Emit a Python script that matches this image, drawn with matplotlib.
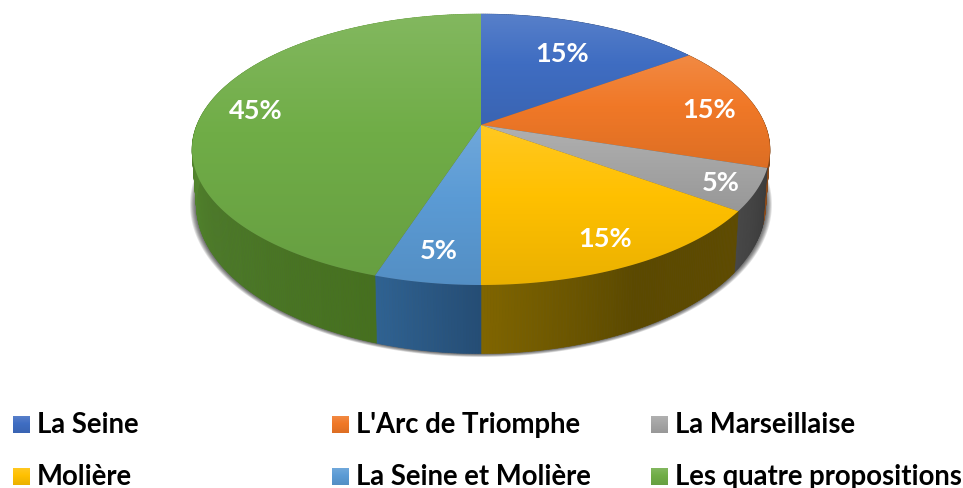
import numpy as np
import matplotlib
matplotlib.use('Agg')
import matplotlib.pyplot as plt
from matplotlib.colors import LinearSegmentedColormap, to_rgb
from matplotlib.patches import Polygon

names = ['La Seine', "L'Arc de Triomphe", 'La Marseillaise', 'Molière', 'La Seine et Molière', 'Les quatre propositions']
values = [15, 15, 5, 15, 5, 45]

base_colors = ['#3F6DC2', '#F07827', '#A5A5A5', '#FFC000', '#5B9BD5', '#70AD47']
side_colors = [['#2c4a80', '#2c4a80'], ['#8a4a1a', '#8a4a1a'], ['#3c3c3c', '#474747'],
               ['#5e4b00', '#5b4900', '#806500'], ['#254d75', '#2f6292'],
               ['#46701f', '#4c7a29', '#558a2f', '#5f9a35', '#639e38']]
label_radius = [0.70, 0.83, 0.88, 0.83, 0.82, 0.82]

# perspective of the pie disc, measured on the picture
cx, cy = 481, 126
a, b, k = 284.2, 131.07, 0.1808


def project(theta, r=1.0):
    u = r * np.sin(np.radians(theta))
    v = r * np.cos(np.radians(theta))
    d = 1 + k * v
    return cx + a * u / d, cy - b * v / d


def lower(x, y):
    return cx + (x - cx) * 0.985, y + 55 + (y - 150) * 0.1


def mix(c, other, f):
    c = np.array(to_rgb(c))
    return tuple(c * (1 - f) + np.array(other) * f)


def gradient(ax, verts, color, z, light=0.13, dark=0.08):
    ys = verts[:, 1]
    x0, x1, y0, y1 = verts[:, 0].min(), verts[:, 0].max(), ys.min(), ys.max()
    cmap = LinearSegmentedColormap.from_list('g', [(0, mix(color, (1, 1, 1), light)), (0.45, color),
                                                   (1, mix(color, (0, 0, 0), dark))])
    im = ax.imshow(np.linspace(0, 1, 256).reshape(-1, 1), cmap=cmap, extent=(x0, x1, y1, y0),
                   aspect='auto', zorder=z, interpolation='bilinear')
    clip = Polygon(verts, closed=True, transform=ax.transData, fc='none', ec='none')
    ax.add_patch(clip)
    im.set_clip_path(clip)


plt.rcParams['font.family'] = ['Lato', 'DejaVu Sans']
fig = plt.figure(figsize=(9.63, 4.89), dpi=100)
ax = fig.add_axes([0, 0, 1, 1])

# soft shadow under the bottom rim
th = np.linspace(0, 360, 721)
rx, ry = project(th)
bx, by = lower(rx, ry)
for s in np.linspace(1.022, 1.0, 8):
    ax.add_patch(Polygon(np.c_[cx + (bx - cx) * s, 200 + (by - 200) * s], closed=True,
                         fc='black', ec='none', alpha=0.11, zorder=1))

edges = 3.6 * np.concatenate([[0], np.cumsum(values)])

# side wall, one thin strip after the other
for i in range(len(values)):
    cmap = LinearSegmentedColormap.from_list('s', side_colors[i])
    t = np.arange(edges[i], edges[i + 1] + 0.01, 0.5)
    xs, ys = project(t)
    xb, yb = lower(xs, ys)
    for j in range(len(t) - 1):
        c = cmap(j / max(len(t) - 2, 1))
        ax.fill([xs[j], xs[j + 1], xb[j + 1], xb[j]], [ys[j], ys[j + 1], yb[j + 1], yb[j]],
                color=c, lw=0.4, zorder=2)

# top faces
for i in range(len(values)):
    t = np.linspace(edges[i], edges[i + 1], 200)
    xs, ys = project(t)
    verts = np.c_[np.r_[cx, xs], np.r_[cy, ys]]
    gradient(ax, verts, base_colors[i], 3)

# percent labels
for i, v in enumerate(values):
    x, y = project((edges[i] + edges[i + 1]) / 2, label_radius[i])
    ax.text(x, y + 1, f'{v}%', color='white', fontsize=19.5, fontweight='bold', ha='center', va='center', zorder=5)

# legend, two rows of three
for i, name in enumerate(names):
    x0 = 13 + 319 * (i % 3)
    y0 = 417 + 52 * (i // 3)
    sq = np.array([[x0, y0], [x0 + 17, y0], [x0 + 17, y0 + 17], [x0, y0 + 17]], dtype=float)
    gradient(ax, sq, base_colors[i], 3)
    ax.text(x0 + 24, y0 + 16, name, color='black', fontsize=19.8, fontweight='bold', ha='left', va='baseline', zorder=5)

ax.set_xlim(0, 963)
ax.set_ylim(489, 0)
ax.axis('off')
fig.savefig('out.png', dpi=100, facecolor='white')
